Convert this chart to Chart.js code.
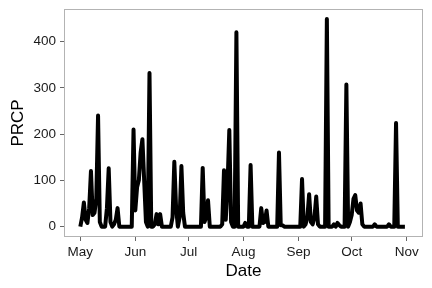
<!DOCTYPE html>
<html>
<head>
<meta charset="utf-8">
<script src="https://cdn.jsdelivr.net/npm/chart.js@4"></script>
<style>
  html, body { margin: 0; padding: 0; background: #fff; }
  #wrap { width: 432px; height: 288px; }
</style>
</head>
<body>
<div id="wrap"><canvas id="chart" width="432" height="288"></canvas></div>
<script>
// Daily precipitation, one value per day starting May 1
const prcp = [
    0, 20, 52, 15, 8, 40, 120, 25, 30, 60,
    240, 10, 0, 0, 0, 40, 126, 10, 0, 5,
    15, 40, 0, 0, 0, 0, 0, 0, 0, 0,
    210, 35, 85, 100, 160, 189, 100, 10, 0, 332,
    0, 0, 5, 27, 5, 27, 0, 0, 0, 0,
    0, 0, 20, 140, 40, 0, 20, 131, 30, 0,
    0, 0, 0, 0, 0, 0, 0, 0, 0, 127,
    10, 20, 57, 0, 0, 0, 0, 0, 0, 0,
    5, 122, 15, 90, 209, 10, 0, 0, 420, 0,
    0, 0, 0, 8, 0, 0, 133, 0, 0, 0,
    0, 0, 40, 8, 10, 35, 0, 0, 0, 0,
    0, 0, 160, 3, 3, 0, 0, 0, 0, 0,
    0, 0, 0, 0, 0, 103, 0, 5, 20, 70,
    10, 5, 20, 65, 5, 0, 0, 0, 0, 449,
    0, 0, 0, 5, 0, 8, 3, 0, 0, 0,
    307, 0, 10, 25, 60, 68, 35, 30, 50, 5,
    0, 0, 0, 0, 0, 0, 5, 0, 0, 0,
    0, 0, 0, 0, 5, 0, 0, 0, 224, 0,
    0, 0, 0, 0
];

// Month ticks (days since May 1)
const monthStarts = [0, 31, 61, 92, 123, 153, 184];
const monthLabels = ['May', 'Jun', 'Jul', 'Aug', 'Sep', 'Oct', 'Nov'];
const yTicks = [0, 100, 200, 300, 400];

const FONT = "'Liberation Sans', Arial, Helvetica, sans-serif";

// Panel border drawn round the plot area
const panelBorder = {
    id: 'panelBorder',
    afterDraw(chart) {
        const { ctx, chartArea: a } = chart;
        ctx.save();
        ctx.strokeStyle = '#b3b3b3';
        ctx.lineWidth = 1;
        ctx.strokeRect(a.left + 0.5, a.top + 0.5, a.right - a.left - 1, a.bottom - a.top - 1);
        ctx.restore();
    }
};

const points = prcp.map((v, i) => ({ x: i, y: v }));

new Chart(document.getElementById('chart'), {
    type: 'line',
    data: {
        datasets: [{
            data: points,
            borderColor: '#000',
            borderWidth: 4,
            pointRadius: 0,
            tension: 0,
            borderJoinStyle: 'round',
            borderCapStyle: 'butt',
            fill: false
        }]
    },
    options: {
        responsive: false,
        animation: false,
        layout: { padding: { top: 9, right: 9, left: 0, bottom: 0 } },
        plugins: { legend: { display: false }, tooltip: { enabled: false } },
        scales: {
            x: {
                type: 'linear',
                min: -9.2,
                max: 193.2,
                afterBuildTicks: (scale) => {
                    scale.ticks = monthStarts.map(v => ({ value: v }));
                },
                afterFit: (scale) => {
                    scale.height = 51;
                    scale.paddingLeft = 0;
                    scale.paddingRight = 0;
                },
                grid: { display: true, drawOnChartArea: false, tickLength: 4, color: '#666' },
                border: { display: false },
                ticks: {
                    autoSkip: false,
                    maxRotation: 0,
                    padding: 3,
                    color: '#1a1a1a',
                    font: { family: FONT, size: 13.5 },
                    callback: (value) => monthLabels[monthStarts.indexOf(value)]
                },
                title: {
                    display: true,
                    text: 'Date',
                    color: '#000',
                    font: { family: FONT, size: 17 },
                    padding: { top: 0, bottom: 6 }
                }
            },
            y: {
                min: -22.4,
                max: 470.4,
                afterBuildTicks: (scale) => {
                    scale.ticks = yTicks.map(v => ({ value: v }));
                },
                afterFit: (scale) => {
                    scale.width = 64;
                    scale.paddingTop = 0;
                    scale.paddingBottom = 0;
                },
                grid: { display: true, drawOnChartArea: false, tickLength: 4, color: '#666' },
                border: { display: false },
                ticks: {
                    padding: 4,
                    color: '#1a1a1a',
                    font: { family: FONT, size: 13.5 }
                },
                title: {
                    display: true,
                    text: 'PRCP',
                    color: '#000',
                    font: { family: FONT, size: 17 },
                    padding: { top: 8, bottom: 0 }
                }
            }
        }
    },
    plugins: [panelBorder]
});
</script>
</body>
</html>
